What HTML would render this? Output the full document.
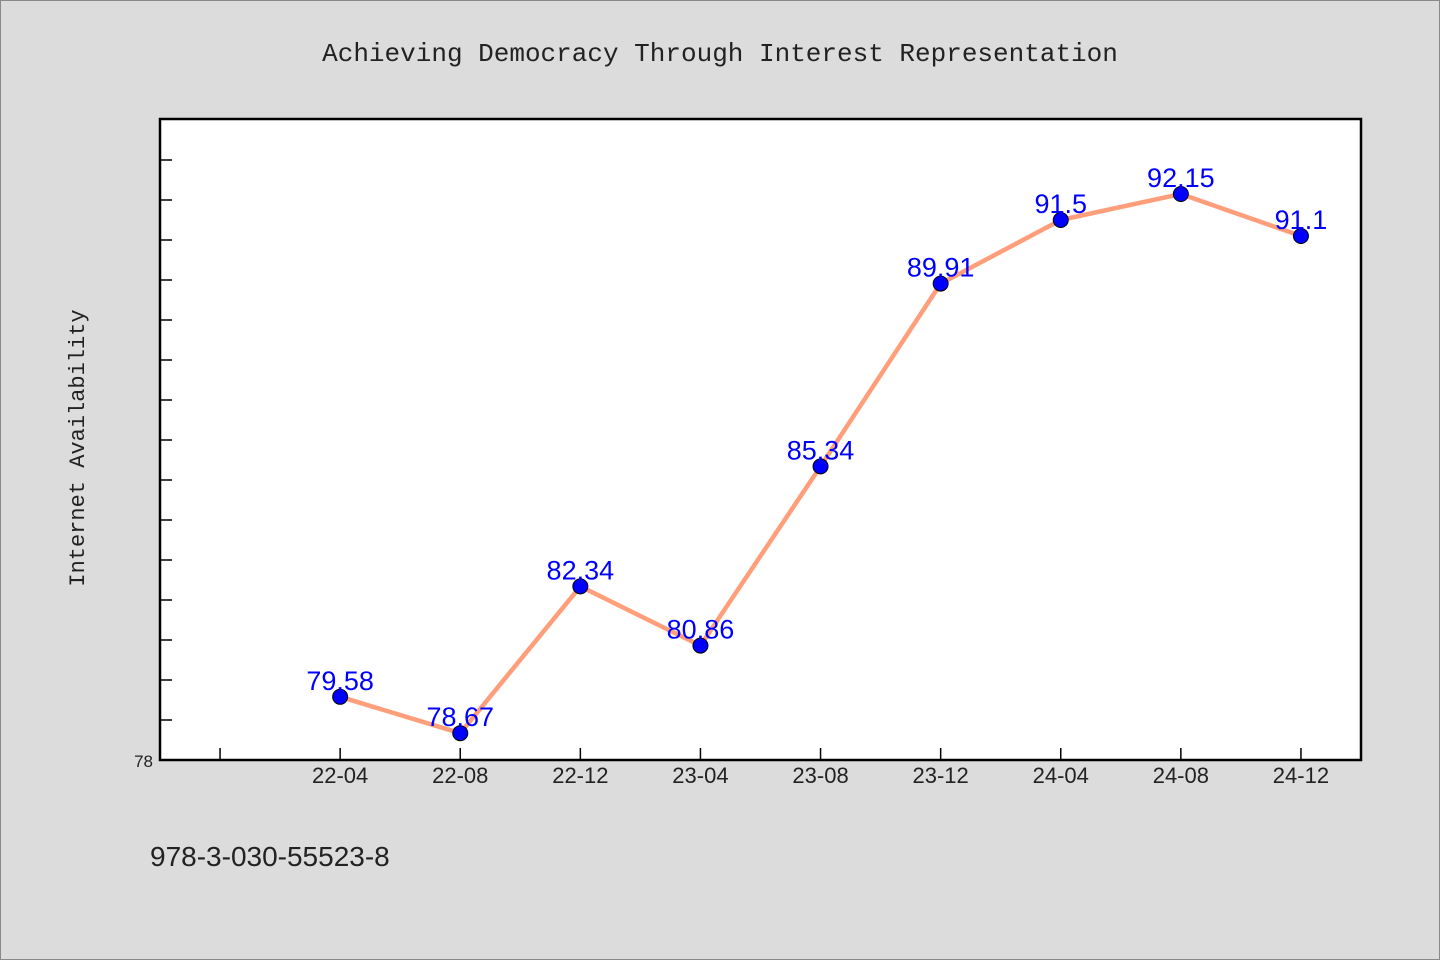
<!DOCTYPE html>
<html><head><meta charset="utf-8"><style>
body{margin:0;background:#dcdcdc;}
svg{display:block;font-family:"WenQuanYi Zen Hei","Liberation Sans",sans-serif;}
</style></head><body>
<svg id="chart" width="1440" height="960">
<rect x="0.5" y="0.5" width="1439" height="959" fill="#dcdcdc" stroke="#888"/>
<text x="720" y="61" text-anchor="middle" font-size="26" fill="#222" font-family="'Liberation Mono',monospace">Achieving Democracy Through Interest Representation</text>
<rect x="160" y="119" width="1201" height="641" fill="#fff" stroke="#000" stroke-width="2.5"/>
<text transform="translate(84,448) rotate(-90)" text-anchor="middle" font-size="22" fill="#222" font-family="'Liberation Mono',monospace">Internet Availability</text>
<text x="150" y="866" font-size="28" fill="#222">978-3-030-55523-8</text>
<g id="axes"></g><g id="marks"></g>
</svg>
<script>
const categories=["","22-04","22-08","22-12","23-04","23-08","23-12","24-04","24-08","24-12"];
const values=[null,79.58,78.67,82.34,80.86,85.34,89.91,91.5,92.15,91.1];
const valueLabels=["","79.58","78.67","82.34","80.86","85.34","89.91","91.5","92.15","91.1"];
const yTicks=[79,80,81,82,83,84,85,86,87,88,89,90,91,92,93];
const yMin=78,yMax=94.025;
const ns="http://www.w3.org/2000/svg";
function X(i){return 160+(i+0.5)*120.1;}
function Y(v){return 760-(v-yMin)/(yMax-yMin)*641;}
function mk(t,a,p){const e=document.createElementNS(ns,t);for(const k in a)e.setAttribute(k,a[k]);p.appendChild(e);return e;}
const ax=document.getElementById('axes'),mg=document.getElementById('marks');
yTicks.forEach(v=>{const l=mk('line',{x1:160,x2:172,y1:Y(v),y2:Y(v),stroke:'#000','stroke-width':1.5},ax);

});
const t0=mk('text',{x:153,y:767,'text-anchor':'end','font-size':17,fill:'#222'},ax);t0.textContent='78';


categories.forEach((c,i)=>{const l=mk('line',{x1:X(i),x2:X(i),y1:760,y2:748,stroke:'#000','stroke-width':1.5},ax);


if(c){const t=mk('text',{x:X(i),y:783,'text-anchor':'middle','font-size':22,fill:'#222'},ax);t.textContent=c;

}});
let d='';values.forEach((v,i)=>{if(v!==null)d+=(d?'L':'M')+X(i)+','+Y(v);});
const p=mk('path',{d:d,fill:'none',stroke:'#ff9e7a','stroke-width':4.5,'stroke-linejoin':'round'},mg);


values.forEach((v,i)=>{if(v===null)return;
const c=mk('circle',{cx:X(i),cy:Y(v),r:7.5,fill:'#0000ff',stroke:'#000','stroke-width':1},mg);


const t=mk('text',{x:X(i),y:Y(v)-7,'text-anchor':'middle','font-size':27,fill:'#0000ff'},mg);t.textContent=valueLabels[i];

});
</script>
</body></html>
